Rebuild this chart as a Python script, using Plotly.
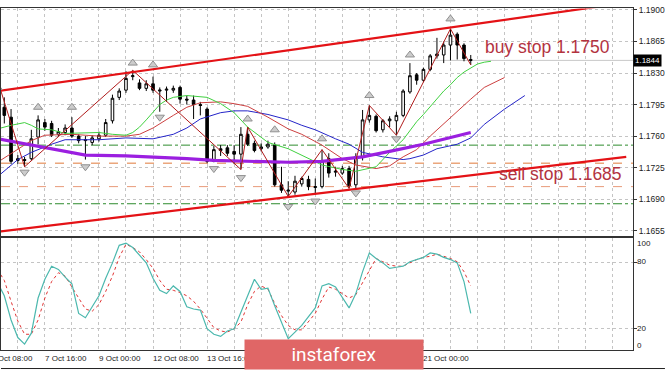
import plotly.graph_objects as go

# ---------------- data ----------------
bar_index = list(range(70))
open_ = [1.1792, 1.1781, 1.1733, 1.1734, 1.1735, 1.1759, 1.1775, 1.1774, 1.1762, 1.1764,
         1.1769, 1.1760, 1.1755, 1.1753, 1.1757, 1.1761, 1.1777, 1.1803, 1.1811, 1.1826,
         1.1819, 1.1813, 1.1818, 1.1810, 1.1811, 1.1811, 1.1814, 1.1801, 1.1800, 1.1795,
         1.1790, 1.1732, 1.1744, 1.1747, 1.1743, 1.1740, 1.1762, 1.1752, 1.1746, 1.1748,
         1.1750, 1.1706, 1.1699, 1.1698, 1.1707, 1.1712, 1.1703, 1.1704, 1.1735, 1.1720,
         1.1719, 1.1724, 1.1706, 1.1737, 1.1778, 1.1782, 1.1767, 1.1777, 1.1777, 1.1783,
         1.1809, 1.1828, 1.1822, 1.1834, 1.1849, 1.1850, 1.1861, 1.1873, 1.1861, 1.1845]
high = [1.1803, 1.1790, 1.1739, 1.1737, 1.1767, 1.1783, 1.1779, 1.1777, 1.1769, 1.1773,
        1.1781, 1.1762, 1.1760, 1.1761, 1.1765, 1.1779, 1.1806, 1.1813, 1.1832, 1.1833,
        1.1823, 1.1822, 1.1826, 1.1814, 1.1815, 1.1816, 1.1816, 1.1805, 1.1805, 1.1798,
        1.1792, 1.1749, 1.1750, 1.1750, 1.1750, 1.1770, 1.1770, 1.1755, 1.1752, 1.1755,
        1.1753, 1.1726, 1.1710, 1.1716, 1.1715, 1.1716, 1.1713, 1.1745, 1.1741, 1.1726,
        1.1727, 1.1727, 1.1741, 1.1789, 1.1794, 1.1784, 1.1779, 1.1782, 1.1787, 1.1812,
        1.1841, 1.1830, 1.1836, 1.1851, 1.1869, 1.1865, 1.1879, 1.1875, 1.1863, 1.1850]
low = [1.1774, 1.1729, 1.1729, 1.1726, 1.1733, 1.1751, 1.1766, 1.1759, 1.1759, 1.1761,
       1.1758, 1.1752, 1.1734, 1.1750, 1.1754, 1.1759, 1.1774, 1.1800, 1.1808, 1.1822,
       1.1811, 1.1810, 1.1808, 1.1787, 1.1798, 1.1808, 1.1796, 1.1795, 1.1779, 1.1783,
       1.1730, 1.1731, 1.1738, 1.1738, 1.1729, 1.1723, 1.1749, 1.1742, 1.1743, 1.1746,
       1.1704, 1.1697, 1.1693, 1.1695, 1.1704, 1.1700, 1.1695, 1.1702, 1.1714, 1.1715,
       1.1717, 1.1702, 1.1702, 1.1733, 1.1775, 1.1764, 1.1764, 1.1770, 1.1761, 1.1781,
       1.1807, 1.1817, 1.1820, 1.1832, 1.1846, 1.1841, 1.1844, 1.1845, 1.1843, 1.1839]
close = [1.1783, 1.1732, 1.1735, 1.1733, 1.1757, 1.1778, 1.1770, 1.1761, 1.1765, 1.1769,
         1.1760, 1.1755, 1.1756, 1.1758, 1.1761, 1.1775, 1.1802, 1.1810, 1.1824, 1.1827,
         1.1813, 1.1818, 1.1811, 1.1811, 1.1812, 1.1813, 1.1801, 1.1800, 1.1795, 1.1794,
         1.1732, 1.1745, 1.1746, 1.1741, 1.1740, 1.1762, 1.1751, 1.1744, 1.1748, 1.1751,
         1.1706, 1.1700, 1.1700, 1.1710, 1.1713, 1.1704, 1.1704, 1.1733, 1.1719, 1.1721,
         1.1724, 1.1705, 1.1737, 1.1778, 1.1783, 1.1766, 1.1777, 1.1779, 1.1783, 1.1810,
         1.1827, 1.1822, 1.1834, 1.1849, 1.1851, 1.1861, 1.1872, 1.1861, 1.1846, 1.1844]

# visible time labels (the ones between 13 Oct and 21 Oct are hidden by the logo)
time_label_bars = [-2, 6, 14, 22, 30, 62]
time_labels = ["6 Oct 08:00", "7 Oct 16:00", "9 Oct 00:00", "12 Oct 08:00", "13 Oct 16:00",
               "21 Oct 00:00"]

price_ticks = [1.1655, 1.1690, 1.1725, 1.1760, 1.1795, 1.1830, 1.1865, 1.1900]
price_tick_labels = ["1.1655", "1.1690", "1.1725", "1.1760", "1.1795", "1.1830", "1.1865", "1.1900"]

# Alligator lines (shifted forward)
lips_bars = [-1, 1, 3, 4, 5, 7, 9, 12, 14, 16, 18, 19, 20, 21, 22, 23, 24, 25, 27, 30, 32, 34, 36,
             39, 42, 44, 47, 50, 52, 55, 57, 59, 60, 61, 62, 63, 64, 65, 66, 67, 68, 69, 70, 71, 72]
lips_vals = [1.1768, 1.1772, 1.1775, 1.1772, 1.1768, 1.1767, 1.1763, 1.1764, 1.1764, 1.1762, 1.1761,
             1.1764, 1.1770, 1.1778, 1.1787, 1.1795, 1.1800, 1.1803, 1.1805, 1.1803, 1.1796, 1.1786,
             1.1770, 1.1753, 1.1746, 1.1739, 1.1728, 1.1723, 1.1721, 1.1726, 1.1742, 1.1756, 1.1766,
             1.1776, 1.1784, 1.1793, 1.1802, 1.1810, 1.1817, 1.1825, 1.1831, 1.1836, 1.1840, 1.1842,
             1.1843]
teeth_bars = [-1, 2, 4, 6, 10, 14, 18, 20, 22, 25, 27, 29, 32, 34, 36, 39, 42, 44, 47, 50, 52, 55,
              57, 59, 61, 63, 65, 67, 69, 71, 74]
teeth_vals = [1.1731, 1.1745, 1.1755, 1.1761, 1.1762, 1.1760, 1.1760, 1.1762, 1.1769, 1.1783, 1.1792,
              1.1797, 1.1798, 1.1796, 1.1793, 1.1781, 1.1768, 1.1762, 1.1750, 1.1735, 1.1728, 1.1724,
              1.1727, 1.1737, 1.1745, 1.1760, 1.1774, 1.1787, 1.1801, 1.1814, 1.1825]
jaw_bars = [-1, 2, 4, 7, 9, 14, 18, 22, 25, 27, 29, 32, 34, 36, 39, 42, 44, 46, 49, 51, 53, 56, 59,
            60, 62, 64, 67, 69, 71, 74, 77]
jaw_vals = [1.1715, 1.1734, 1.1742, 1.1751, 1.1756, 1.1756, 1.1758, 1.1757, 1.1762, 1.1769, 1.1779,
            1.1786, 1.1788, 1.1788, 1.1784, 1.1778, 1.1772, 1.1767, 1.1757, 1.1751, 1.1742, 1.1737,
            1.1734, 1.1735, 1.1739, 1.1746, 1.1751, 1.1758, 1.1773, 1.1790, 1.1805]
slow_ma_bars = [-1, 2, 6, 9, 12, 18, 22, 27, 31, 36, 42, 47, 51, 53, 57, 60, 62, 69]
slow_ma_vals = [1.1757, 1.1753, 1.1747, 1.1743, 1.1739, 1.1738, 1.1737, 1.1735, 1.1733, 1.1732,
                1.1731, 1.1732, 1.1735, 1.1737, 1.1743, 1.1748, 1.1751, 1.1764]

zigzag_bars = [-2, 3, 19, 35, 36, 42, 47, 51, 54, 58, 66, 69]
zigzag_vals = [1.1846, 1.1726, 1.1833, 1.1723, 1.1770, 1.1693, 1.1745, 1.1702, 1.1794, 1.1761,
               1.1879, 1.1839]

fractal_up_bars = [-1, 5, 10, 19, 22, 36, 40, 47, 54, 60, 66]
fractal_up_vals = [1.1814, 1.1792, 1.1792, 1.1841, 1.1839, 1.1779, 1.1767, 1.1757, 1.1805, 1.1850,
                   1.1890]
fractal_down_bars = [3, 12, 23, 31, 35, 42, 46, 52, 58]
fractal_down_vals = [1.1720, 1.1726, 1.1781, 1.1724, 1.1714, 1.1682, 1.1688, 1.1697, 1.1757]

channel_upper_bars = [-1, 93]
channel_upper_vals = [1.1810, 1.1909]
channel_lower_bars = [-1, 92]
channel_lower_vals = [1.1654, 1.1737]

buy_stop = 1.1750
sell_stop = 1.1685
orange_levels = [1.1730, 1.1704]
last_price = close[-1]

stoch_bars = list(range(-1, 70))
stoch_main = [62, 50, 28, 12, 6, 16, 48, 65, 77, 74,
              67, 61, 34, 30, 40, 50, 66, 80, 96, 98,
              94, 87, 80, 66, 55, 52, 59, 54, 40, 38,
              37, 20, 15, 13, 18, 20, 35, 50, 65, 56,
              57, 41, 26, 11, 17, 23, 31, 39, 59, 61,
              58, 49, 39, 52, 72, 89, 84, 80, 75, 76,
              77, 81, 83, 85, 89, 88, 85, 83, 80, 63, 34]
stoch_signal = [74, 64, 45, 27, 15, 15, 28, 48, 63, 71,
                68, 58, 47, 38, 36, 42, 54, 68, 85, 97,
                94, 90, 83, 75, 64, 56, 55, 53, 50, 45,
                38, 30, 21, 18, 17, 20, 26, 42, 54, 59,
                56, 43, 32, 23, 19, 19, 26, 34, 47, 58,
                56, 52, 48, 51, 62, 73, 84, 81, 78, 77,
                77, 80, 83, 85, 86, 88, 86, 84, 81, 72, 59]
stoch_levels = [100, 80, 20, 0]
stoch_level_labels = ["100", "80", "20", "0"]

# ---------------- styling ----------------
GRID = "#c4c4c4"
FRAME = "#333333"
TXT = "#222222"
FONT = "Liberation Sans, Arial, sans-serif"
W, H = 665, 371
PLOT_W = 633
x_range = [-0.4875, 93.0]

fig = go.Figure()

fig.add_trace(go.Candlestick(
    x=bar_index, open=open_, high=high, low=low, close=close,
    increasing=dict(line=dict(color="black", width=1), fillcolor="white"),
    decreasing=dict(line=dict(color="black", width=1), fillcolor="black"),
    whiskerwidth=0, showlegend=False, hoverinfo="skip", xaxis="x", yaxis="y"))

def line(xs, ys, color, width, dash="solid", xa="x", ya="y"):
    fig.add_trace(go.Scatter(x=xs, y=ys, mode="lines", line=dict(color=color, width=width, dash=dash),
                             showlegend=False, hoverinfo="skip", xaxis=xa, yaxis=ya))

line(jaw_bars, jaw_vals, "#2424c8", 1)
line(teeth_bars, teeth_vals, "#cc4040", 1)
line(lips_bars, lips_vals, "#40d040", 1)
line(slow_ma_bars, slow_ma_vals, "#9b1fe0", 3.2)
line(zigzag_bars, zigzag_vals, "#b01c1c", 1)
line(channel_upper_bars, channel_upper_vals, "#e41216", 2.2)
line(channel_lower_bars, channel_lower_vals, "#e41216", 2.2)

fig.add_trace(go.Scatter(x=fractal_up_bars, y=fractal_up_vals, mode="markers",
                         marker=dict(symbol="triangle-up", size=8, color="#cccccc",
                                     line=dict(color="#909090", width=1)),
                         showlegend=False, hoverinfo="skip", xaxis="x", yaxis="y"))
fig.add_trace(go.Scatter(x=fractal_down_bars, y=fractal_down_vals, mode="markers",
                         marker=dict(symbol="triangle-down", size=8, color="#cccccc",
                                     line=dict(color="#909090", width=1)),
                         showlegend=False, hoverinfo="skip", xaxis="x", yaxis="y"))

# stochastic
line(stoch_bars, stoch_signal, "#e03434", 1, dash="dot", xa="x2", ya="y2")
line(stoch_bars, stoch_main, "#4cb8ae", 1.2, xa="x2", ya="y2")

shapes = []
def hline(y, color, dash, width=1):
    shapes.append(dict(type="line", xref="paper", x0=0, x1=1, yref="y", y0=y, y1=y,
                       line=dict(color=color, width=width, dash=dash), layer="below"))

hline(last_price, "#c8c8c8", "solid")
hline(buy_stop, "#2e8b2e", "dashdot")
hline(sell_stop, "#2e8b2e", "dashdot")
hline(orange_levels[0], "#e07a3a", "dash")
hline(orange_levels[1], "#e89a7a", "dash")

# outer window line at the bottom
shapes.append(dict(type="line", xref="paper", yref="paper", x0=0, x1=W / PLOT_W,
                   y0=(H - 368.5) / H, y1=(H - 368.5) / H, line=dict(color="#222", width=1)))

annotations = []
for b, t in zip(time_label_bars, time_labels):
    # paper position of the bar (the first label's bar lies left of the visible range)
    xp = (b - x_range[0]) / (x_range[1] - x_range[0])
    annotations.append(dict(x=xp, xref="paper", y=(H - 358) / H, yref="paper", text=t,
                            showarrow=False, xanchor="left", yanchor="middle", xshift=-2,
                            font=dict(family=FONT, size=8, color=TXT)))

# stochastic scale labels, placed as MT4 draws them (pixel rows of the window)
stoch_label_rows = {100: 242, 80: 260, 20: 328, 0: 345}
for v, t in zip(stoch_levels, stoch_level_labels):
    annotations.append(dict(x=1, xref="paper", y=(H - stoch_label_rows[v]) / H, yref="paper",
                            text=t, showarrow=False, xanchor="left", yanchor="middle", xshift=2,
                            font=dict(family=FONT, size=8, color=TXT)))

annotations.append(dict(x=1, xref="paper", y=last_price, yref="y", text=f"{last_price:.4f}",
                        showarrow=False, xanchor="left", yanchor="middle", xshift=0,
                        bgcolor="black", borderpad=1, font=dict(family=FONT, size=8, color="white")))

annotations.append(dict(x=612 / PLOT_W, xref="paper", y=1.18589, yref="y",
                        text=f"buy stop {buy_stop:.4f}", showarrow=False, xanchor="right",
                        yanchor="middle", font=dict(family=FONT, size=17.5, color="#b3333f")))
annotations.append(dict(x=624 / PLOT_W, xref="paper", y=1.17179, yref="y",
                        text=f"sell stop {sell_stop:.4f}", showarrow=False, xanchor="right",
                        yanchor="middle", font=dict(family=FONT, size=17.5, color="#b3333f")))

annotations.append(dict(x=334 / PLOT_W, xref="paper", y=(H - 354.5) / H, yref="paper",
                        text="instaforex", showarrow=False, xanchor="center", yanchor="middle",
                        width=178, height=29, borderpad=0, bgcolor="#e06666",
                        font=dict(family="Roboto, sans-serif", size=19, color="white")))

common_x = dict(range=x_range, showticklabels=False, ticks="", tick0=2, dtick=4, showgrid=True,
                gridcolor=GRID, griddash="3px,3px", gridwidth=1, zeroline=False, showline=True,
                mirror=True, linecolor=FRAME, linewidth=1)

fig.update_layout(
    width=W, height=H, margin=dict(l=0, r=W - PLOT_W, t=0, b=0),
    paper_bgcolor="white", plot_bgcolor="white", showlegend=False,
    boxgap=0.45,
    xaxis=dict(common_x, domain=[0, 1], anchor="y", rangeslider=dict(visible=False)),
    xaxis2=dict(common_x, domain=[0, 1], anchor="y2", matches="x"),
    yaxis=dict(domain=[(H - 235) / H, (H - 4.5) / H], range=[1.16487, 1.19016], side="right",
               tickvals=price_ticks, ticktext=price_tick_labels, ticks="outside", ticklen=3,
               tickcolor=FRAME, tickfont=dict(family=FONT, size=8.5, color=TXT),
               showgrid=True, gridcolor=GRID, griddash="3px,3px", zeroline=False,
               showline=True, mirror=True, linecolor=FRAME, linewidth=1, anchor="x"),
    yaxis2=dict(domain=[(H - 350) / H, (H - 237) / H], range=[0.45, 102.25], side="right",
                tickvals=[20, 80], showticklabels=False, ticks="outside", ticklen=3, tickcolor=FRAME,
                showgrid=True, gridcolor=GRID, griddash="3px,3px", zeroline=False,
                showline=True, mirror=True, linecolor=FRAME, linewidth=1, anchor="x2"),
    shapes=shapes, annotations=annotations,
)

fig.write_html("out.html", config={"displayModeBar": False},
               post_script="document.body.style.margin='0';document.body.style.overflow='hidden';")
